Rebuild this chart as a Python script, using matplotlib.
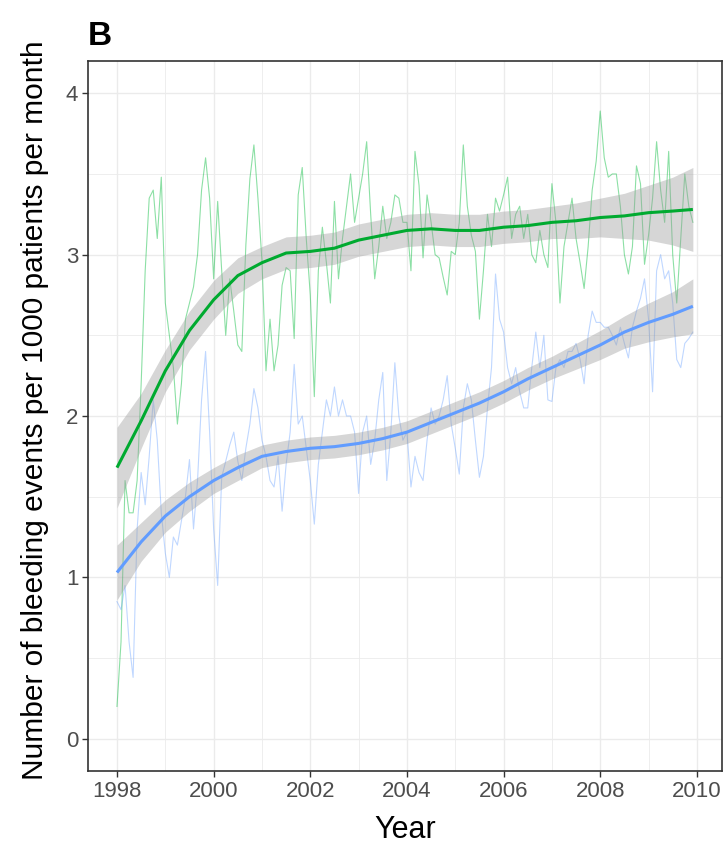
import numpy as np
import matplotlib
matplotlib.use("Agg")
import matplotlib.pyplot as plt
from matplotlib.ticker import MultipleLocator

plt.rcParams['font.family'] = ['Liberation Sans', 'DejaVu Sans']

# ---------------- data (monthly rates) ----------------
start_year = 1998

green_1998 = [0.2, 0.6, 1.6, 1.4, 1.4, 1.6, 2.2, 2.9, 3.35, 3.4, 3.1, 3.48]
green_1999 = [2.7, 2.5, 2.3, 1.95, 2.2, 2.6, 2.7, 2.8, 3.0, 3.4, 3.6, 3.35]
green_2000 = [2.85, 3.33, 2.9, 2.5, 2.85, 2.65, 2.44, 2.4, 3.06, 3.47, 3.68, 3.35]
green_2001 = [2.96, 2.28, 2.6, 2.28, 2.44, 2.81, 2.92, 2.9, 2.48, 3.37, 3.54, 3.1]
green_2002 = [2.75, 2.12, 2.9, 3.17, 2.95, 2.7, 3.33, 2.85, 3.1, 3.3, 3.5, 3.2]
green_2003 = [3.35, 3.5, 3.7, 3.25, 2.85, 3.05, 3.3, 3.1, 3.2, 3.37, 3.35, 3.2]
green_2004 = [3.2, 2.9, 3.64, 3.43, 2.98, 3.37, 3.2, 3.0, 2.98, 2.86, 2.75, 3.02]
green_2005 = [3.0, 3.2, 3.68, 3.3, 3.12, 3.02, 2.6, 2.9, 3.25, 3.05, 3.35, 3.27]
green_2006 = [3.37, 3.48, 3.1, 3.25, 3.3, 3.1, 3.25, 3.0, 2.95, 3.15, 3.0, 2.92]
green_2007 = [3.44, 3.2, 2.7, 3.05, 3.2, 3.35, 3.1, 2.95, 2.79, 3.05, 3.4, 3.58]
green_2008 = [3.89, 3.6, 3.48, 3.5, 3.5, 3.3, 3.0, 2.88, 3.05, 3.55, 3.44, 2.94]
green_2009 = [3.12, 3.35, 3.7, 3.4, 3.2, 3.64, 3.0, 2.7, 3.1, 3.5, 3.3, 3.2]

blue_1998 = [0.85, 0.8, 0.95, 0.6, 0.38, 1.3, 1.65, 1.45, 1.75, 2.1, 1.85, 1.4]
blue_1999 = [1.15, 1.0, 1.25, 1.2, 1.35, 1.5, 1.73, 1.3, 1.6, 2.1, 2.4, 1.9]
blue_2000 = [1.3, 0.95, 1.62, 1.72, 1.82, 1.9, 1.72, 1.6, 1.8, 1.95, 2.17, 2.05]
blue_2001 = [1.85, 1.75, 1.6, 1.56, 1.75, 1.41, 1.7, 1.9, 2.32, 1.95, 2.0, 1.8]
blue_2002 = [1.6, 1.33, 1.7, 1.9, 2.1, 2.0, 2.18, 2.0, 2.1, 2.0, 2.0, 1.9]
blue_2003 = [1.52, 1.9, 2.0, 1.7, 1.85, 2.1, 2.27, 1.6, 1.9, 2.33, 2.0, 1.85]
blue_2004 = [1.9, 1.56, 1.75, 1.65, 1.6, 1.85, 2.05, 1.95, 2.0, 2.1, 2.25, 1.95]
blue_2005 = [1.8, 1.64, 2.05, 2.2, 2.1, 1.85, 1.62, 1.75, 2.05, 2.3, 2.88, 2.6]
blue_2006 = [2.52, 2.3, 2.2, 2.3, 2.15, 2.05, 2.05, 2.3, 2.52, 2.3, 2.5, 2.1]
blue_2007 = [2.09, 2.3, 2.35, 2.3, 2.4, 2.4, 2.45, 2.35, 2.2, 2.5, 2.65, 2.58]
blue_2008 = [2.58, 2.55, 2.55, 2.5, 2.44, 2.55, 2.45, 2.36, 2.55, 2.65, 2.73, 2.85]
blue_2009 = [2.6, 2.15, 2.9, 3.0, 2.85, 2.9, 2.7, 2.35, 2.3, 2.45, 2.48, 2.52]

# smoothed trend (fit and CI half-width) read at half-year points
smooth_years = [1998.0, 1998.5, 1999.0, 1999.5, 2000.0, 2000.5, 2001.0, 2001.5,
                2002.0, 2002.5, 2003.0, 2003.5, 2004.0, 2004.5, 2005.0, 2005.5,
                2006.0, 2006.5, 2007.0, 2007.5, 2008.0, 2008.5, 2009.0, 2009.5, 2009.917]
green_fit = [1.68, 1.97, 2.28, 2.53, 2.72, 2.87, 2.95, 3.01, 3.02, 3.04, 3.09, 3.12,
             3.15, 3.16, 3.15, 3.15, 3.17, 3.18, 3.20, 3.21, 3.23, 3.24, 3.26, 3.27, 3.28]
green_se = [0.25, 0.17, 0.13, 0.12, 0.12, 0.11, 0.10, 0.10, 0.10, 0.10, 0.10, 0.10,
            0.10, 0.10, 0.10, 0.10, 0.10, 0.10, 0.10, 0.11, 0.12, 0.14, 0.17, 0.21, 0.26]
blue_fit = [1.03, 1.22, 1.38, 1.50, 1.60, 1.68, 1.75, 1.78, 1.80, 1.81, 1.83, 1.86,
            1.90, 1.96, 2.02, 2.08, 2.15, 2.23, 2.30, 2.37, 2.44, 2.52, 2.58, 2.63, 2.68]
blue_se = [0.17, 0.12, 0.10, 0.09, 0.08, 0.08, 0.07, 0.07, 0.07, 0.07, 0.07, 0.07,
           0.07, 0.07, 0.07, 0.07, 0.07, 0.07, 0.07, 0.08, 0.09, 0.10, 0.12, 0.14, 0.17]

x_ticks = [1998, 2000, 2002, 2004, 2006, 2008, 2010]
y_ticks = [0, 1, 2, 3, 4]

# ---------------- assemble ----------------
green_raw = np.concatenate([green_1998, green_1999, green_2000, green_2001, green_2002,
                            green_2003, green_2004, green_2005, green_2006, green_2007,
                            green_2008, green_2009])
blue_raw = np.concatenate([blue_1998, blue_1999, blue_2000, blue_2001, blue_2002,
                           blue_2003, blue_2004, blue_2005, blue_2006, blue_2007,
                           blue_2008, blue_2009])
months = start_year + np.arange(len(green_raw)) / 12.0
sx = np.array(smooth_years)
gf, gs = np.array(green_fit), np.array(green_se)
bf, bs = np.array(blue_fit), np.array(blue_se)

GREEN = '#00BA38'
BLUE = '#619CFF'

fig = plt.figure(figsize=(7.25, 8.5), dpi=100)
ax = fig.add_axes([88 / 725, 1 - 771 / 850, (722 - 88) / 725, (771 - 61) / 850])

ax.plot(months, green_raw, color=GREEN, alpha=0.45, lw=0.8, zorder=2)
ax.plot(months, blue_raw, color=BLUE, alpha=0.4, lw=0.8, zorder=2)

ax.fill_between(sx, gf - gs, gf + gs, color='#999999', alpha=0.4, lw=0, zorder=3)
ax.plot(sx, gf, color='#00AA30', lw=2.2, zorder=4, solid_capstyle='butt')
ax.fill_between(sx, bf - bs, bf + bs, color='#999999', alpha=0.4, lw=0, zorder=3)
ax.plot(sx, bf, color=BLUE, lw=2.2, zorder=4, solid_capstyle='butt')

ax.set_xlim(1997.4, 2010.52)
ax.set_ylim(-0.2, 4.2)
ax.set_xticks(x_ticks)
ax.set_yticks(y_ticks)
ax.xaxis.set_minor_locator(MultipleLocator(1))
ax.yaxis.set_minor_locator(MultipleLocator(0.5))
ax.grid(which='major', color='#EBEBEB', lw=1.0, zorder=0)
ax.grid(which='minor', color='#EBEBEB', lw=0.6, zorder=0)
ax.set_axisbelow(True)

for sp in ax.spines.values():
    sp.set_color('#333333')
    sp.set_linewidth(1.2)

ax.tick_params(which='major', direction='out', length=4, width=1.0, color='#333333',
               labelsize=16, labelcolor='#4D4D4D', pad=3)
ax.tick_params(which='minor', length=0)

fig.text(405 / 725, 1 - 830 / 850, 'Year', ha='center', va='center', fontsize=22)
fig.text(35 / 725, 1 - 410 / 850, 'Number of bleeding events per 1000 patients per month',
         ha='center', va='center', rotation=90, fontsize=21.5)
fig.text(88 / 725, 1 - 52 / 850, 'B', ha='left', va='bottom', fontsize=24, fontweight='bold')

fig.savefig('out.png', dpi=100)
